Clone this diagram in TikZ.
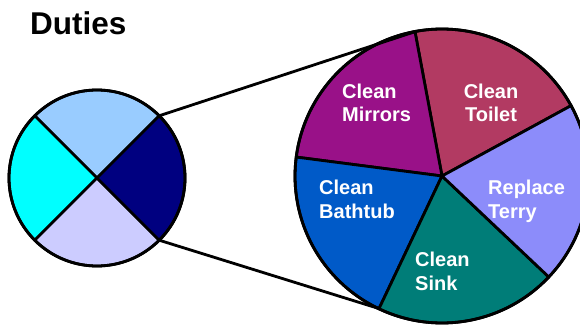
\documentclass[tikz,border=0pt]{standalone}
\usepackage{fontspec}
\setmainfont{Liberation Sans}
\definecolor{topblue}{RGB}{153,204,255}
\definecolor{navyq}{RGB}{0,0,128}
\definecolor{lavq}{RGB}{204,204,255}
\definecolor{cyanq}{RGB}{0,255,255}
\definecolor{mirrorc}{RGB}{153,17,136}
\definecolor{toiletc}{RGB}{178,58,98}
\definecolor{terryc}{RGB}{140,140,250}
\definecolor{sinkc}{RGB}{0,125,120}
\definecolor{bathc}{RGB}{0,90,200}
\tikzset{
  outline/.style={draw=black, line width=2.8pt, line join=round},
  rim/.style={circle, draw=black, line width=2.8pt, outer sep=0pt, inner sep=0pt},
  slicelabel/.style={text=white, font=\bfseries\fontsize{20}{23.5}\selectfont, inner sep=0pt, align=left},
  link/.style={draw=black, line width=2.8pt},
}
\begin{document}
\begin{tikzpicture}[x=1pt,y=1pt]
\useasboundingbox (0,0) rectangle (580,327);
\fill[white] (0,0) rectangle (580,327);
% small pie
\coordinate (scc) at (97,149);
\filldraw[outline, fill=topblue] (scc) -- ++(45:88) arc[start angle=45, end angle=135, radius=88] -- cycle;
\filldraw[outline, fill=cyanq] (scc) -- ++(135:88) arc[start angle=135, end angle=225, radius=88] -- cycle;
\filldraw[outline, fill=lavq] (scc) -- ++(225:88) arc[start angle=225, end angle=315, radius=88] -- cycle;
\filldraw[outline, fill=navyq] (scc) -- ++(-45:88) arc[start angle=-45, end angle=45, radius=88] -- cycle;
\node[rim, minimum size=176pt] (sc) at (scc) {};
% big pie
\coordinate (bcc) at (442,151);
\filldraw[outline, fill=toiletc] (bcc) -- ++(28.6:147) arc[start angle=28.6, end angle=100.6, radius=147] -- cycle;
\filldraw[outline, fill=mirrorc] (bcc) -- ++(100.6:147) arc[start angle=100.6, end angle=172.6, radius=147] -- cycle;
\filldraw[outline, fill=bathc] (bcc) -- ++(172.6:147) arc[start angle=172.6, end angle=244.6, radius=147] -- cycle;
\filldraw[outline, fill=sinkc] (bcc) -- ++(244.6:147) arc[start angle=244.6, end angle=316.6, radius=147] -- cycle;
\filldraw[outline, fill=terryc] (bcc) -- ++(316.6:147) arc[start angle=316.6, end angle=388.6, radius=147] -- cycle;
\node[rim, minimum size=294pt] (bc) at (bcc) {};
% connectors
\draw[link] (sc.45) -- (bc.100.6);
\draw[link] (sc.-45) -- (bc.244.6);
% labels (anchor = baseline of last line)
\node[slicelabel, anchor=base west] (lmirrors) at (342,205) {Clean\\Mirrors};
\node[slicelabel, anchor=base, align=center] (ltoilet) at (491,205) {Clean\\Toilet};
\node[slicelabel, anchor=base west] (lterry) at (488,109) {Replace\\Terry};
\node[slicelabel, anchor=base west] (lbath) at (319,109) {Clean\\Bathtub};
\node[slicelabel, anchor=base west] (lsink) at (415,37) {Clean\\Sink};
\node[anchor=base west, inner sep=0pt, font=\bfseries\fontsize{31.5}{36}\selectfont] (title) at (30,292) {Duties};
\end{tikzpicture}
\end{document}
